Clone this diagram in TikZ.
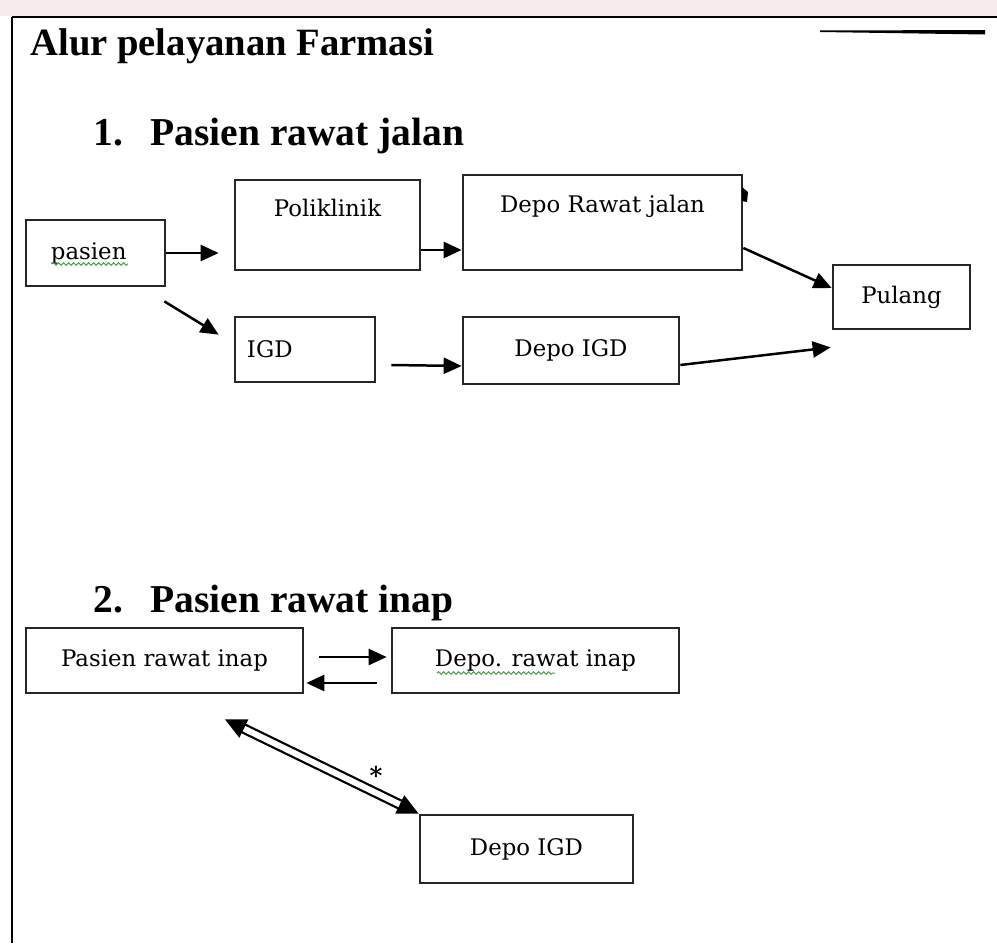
\documentclass[tikz,border=0pt]{standalone}
\usepackage{fontspec}
\setmainfont{Liberation Serif}
\newfontfamily\boxfont{DejaVu Serif}
\usetikzlibrary{arrows.meta,positioning,decorations.pathmorphing}
\definecolor{topband}{HTML}{F7EDEE}
\definecolor{spellgreen}{HTML}{4A9E4A}
\tikzset{
  box/.style={draw=black!85, line width=0.055cm, inner sep=0pt, font=\boxfont\fontsize{13}{15}\selectfont},
  lbl/.style={font=\boxfont\fontsize{13}{15}\selectfont, inner sep=0pt},
  arr/.style={line width=0.05cm, -{Triangle[length=0.36cm,width=0.32cm]}},
  dbl/.style={line width=0.045cm, double, double distance=0.12cm, {Triangle[length=0.42cm,width=0.4cm]}-{Triangle[length=0.42cm,width=0.4cm]}},
  head/.style={font=\bfseries\fontsize{22.5}{26}\selectfont, anchor=base west, inner sep=0pt},
  squiggle/.style={spellgreen, line width=0.02cm, decorate, decoration={snake, amplitude=0.025cm, segment length=0.1cm}}
}
\begin{document}
\begin{tikzpicture}[x=0.02cm, y=-0.02cm]
      \useasboundingbox (0,0) rectangle (997,943);
      \fill[topband] (0,0) rectangle (997,16);
      \draw[line width=0.06cm] (12,17) -- (997,17);
      \draw[line width=0.06cm] (12,17) -- (12,943);
      \fill (820,30.5) -- (985,30) -- (985,34.5) -- (820,32) -- cycle;
      \node[head, font=\bfseries\fontsize{22}{26}\selectfont] (judul) at (30,55) {Alur pelayanan Farmasi};
      \node[head] (no1) at (93,145) {1.};
      \node[head] (jalan) at (150,145) {Pasien rawat jalan};
      \node[head] (no2) at (93,612) {2.};
      \node[head] (inap) at (150,612) {Pasien rawat inap};
      \node[box, minimum width=2.78cm, minimum height=1.32cm,
        label={[lbl, anchor=base west, xshift=0.52cm, yshift=-0.12cm]west:pasien}] (pasien) at (95.5,253) {};
      \node[box, minimum width=3.7cm, minimum height=1.8cm,
        label={[lbl, anchor=base, yshift=-0.76cm]north:Poliklinik}] (poli) at (327.5,225) {};
      \node[box, minimum width=5.58cm, minimum height=1.9cm,
        label={[lbl, anchor=base, yshift=-0.78cm]north:Depo Rawat jalan}] (deporj) at (602.5,222.5) {};
      \node[box, minimum width=2.74cm, minimum height=1.28cm] (pulang) at (901.5,297) {Pulang};
      \node[box, minimum width=2.8cm, minimum height=1.3cm,
        label={[lbl, anchor=base west, xshift=0.26cm, yshift=-0.15cm]west:IGD}] (igd) at (305,349.5) {};
      \node[box, minimum width=4.32cm, minimum height=1.34cm] (depoigd) at (571,350.5) {Depo IGD};
      \node[box, minimum width=5.54cm, minimum height=1.3cm] (rinap) at (164.5,660.5) {Pasien rawat inap};
      \node[box, minimum width=5.74cm, minimum height=1.3cm] (deporinap) at (535.5,660.5) {Depo. rawat inap};
      \node[box, minimum width=4.26cm, minimum height=1.36cm] (depoigdb) at (526.5,849) {Depo IGD};
      \draw[squiggle] (52,264) -- (128,264);
      \draw[squiggle] (437,673) -- (555,673);
      \fill (742,187) -- (748,192) -- (747,202) -- (742,201) -- cycle;
      \draw[arr, shorten >=0.3cm] (pasien) -- (pasien -| poli.west);
      \draw[arr] ([shift={(-0.04cm,-0.28cm)}]pasien.south east) -- ([shift={(-0.3cm,-0.38cm)}]igd.north west);
      \draw[arr] ([yshift=-0.5cm]poli.east) -- ([yshift=-0.5cm]poli.east -| deporj.west);
      \draw[arr] ([shift={(0.3cm,-0.31cm)}]igd.east) -- ([yshift=-0.31cm]depoigd.west);
      \draw[arr] ([yshift=-0.51cm]deporj.east) -- ([yshift=0.18cm]pulang.west);
      \draw[arr] ([yshift=-0.29cm]depoigd.east) -- ([shift={(-0.02cm,-0.34cm)}]pulang.south west);
      \draw[arr] ([shift={(0.3cm,0.07cm)}]rinap.east) -- ([shift={(-0.08cm,0.07cm)}]deporinap.west);
      \draw[arr] ([shift={(-0.28cm,-0.45cm)}]deporinap.west) -- ([shift={(0.04cm,-0.45cm)}]rinap.east);
      \draw[dbl] ([shift={(1.21cm,-0.5cm)}]rinap.south) -- (depoigdb.north west)
        node[pos=0.78, yshift=0.36cm, font=\boxfont\bfseries\fontsize{14}{16}\selectfont] (bintang) {*};
\end{tikzpicture}
\end{document}
